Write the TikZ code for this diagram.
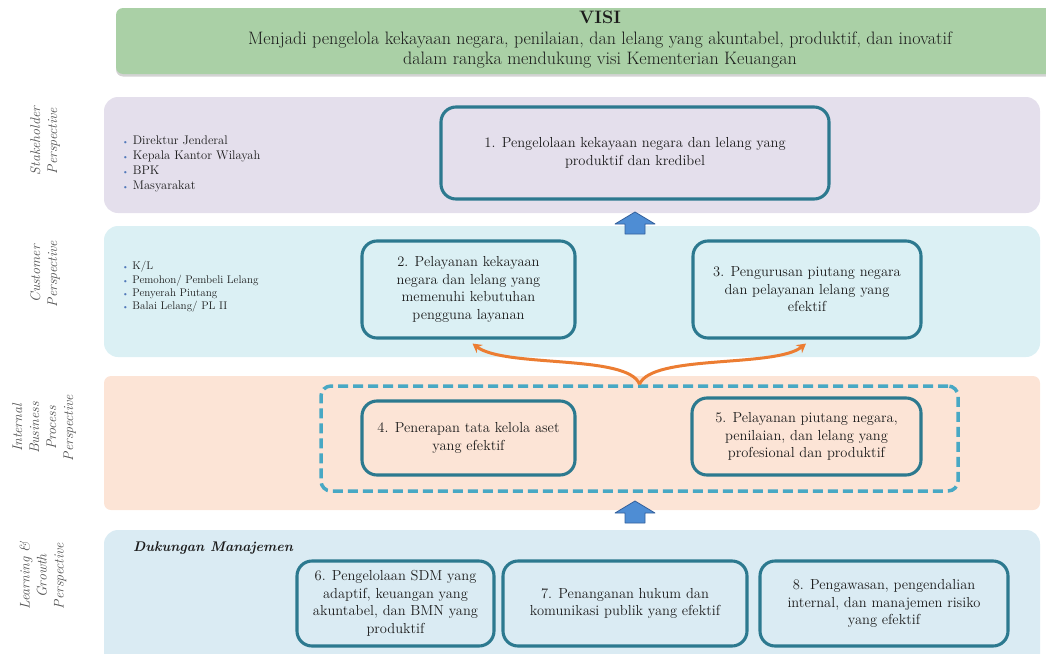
\documentclass[tikz,border=0pt]{standalone}
\usetikzlibrary{arrows.meta,shadows}
\definecolor{visig}{RGB}{170,208,166}
\definecolor{lav}{RGB}{228,223,236}
\definecolor{cyanb}{RGB}{219,240,244}
\definecolor{peach}{RGB}{252,228,214}
\definecolor{blueb}{RGB}{218,235,243}
\definecolor{boxc}{RGB}{44,121,143}
\definecolor{dashc}{RGB}{72,168,196}
\definecolor{orng}{RGB}{236,125,50}
\definecolor{barf}{RGB}{78,141,212}
\definecolor{bard}{RGB}{52,96,156}
\definecolor{txt}{RGB}{28,28,28}
\definecolor{lblc}{RGB}{80,80,80}
\definecolor{bul}{RGB}{80,120,185}
\newcommand{\bt}{{\color{bul}\fontsize{8}{8}\selectfont\textbullet}\ }
\begin{document}
\begin{tikzpicture}[x=1pt,y=-1pt,
  box/.style={draw=boxc, line width=3.1pt, rounded corners=15pt, align=center,
    text=txt, inner sep=0pt, font=\fontsize{14.5}{17.5}\selectfont},
  band/.style={rounded corners=14pt},
  plabel/.style={rotate=90, align=center, text=lblc, font=\fontsize{14}{17}\selectfont\itshape},
  blist/.style={anchor=west, align=left, text=txt, inner sep=0pt},
  barrow/.style={fill=barf, draw=bard, line width=0.8pt, line join=round},
  oarrow/.style={draw=orng, line width=3pt, -{Stealth[length=9pt,width=10pt]}},
  dashbox/.style={draw=dashc, line width=3.5pt, dash pattern=on 10pt off 5pt, rounded corners=10pt, inner sep=0pt}
]
\useasboundingbox (0,0) rectangle (1046,653);

% VISI
\node[fill=visig, rounded corners=7pt, minimum width=940pt, minimum height=66pt, inner sep=0pt,
  drop shadow={opacity=0.35, shadow xshift=0pt, shadow yshift=-2.5pt}] (visibox) at (586,41) {};
\node[align=center, text=txt, font=\fontsize{18}{20.5}\selectfont, inner sep=0pt] (visi) at (600,40)
  {\textbf{VISI}\\Menjadi pengelola kekayaan negara, penilaian, dan lelang yang akuntabel, produktif, dan inovatif\\dalam rangka mendukung visi Kementerian Keuangan};

% bands
\fill[lav, band] (104,97) rectangle (1040,213);
\fill[cyanb, band] (104,226) rectangle (1040,357);
\fill[peach, rounded corners=7pt] (104,376) rectangle (1040,510);
\fill[blueb, band] (104,530) rectangle (1040,670);

% perspective labels
\node[plabel] (l1) at (45,141) {Stakeholder\\Perspective};
\node[plabel] (l2) at (45,274) {Customer\\Perspective};
\node[plabel] (l3) at (44,428) {Internal\\Business\\Process\\Perspective};
\node[plabel] (l4) at (43,576) {Learning \&\\Growth\\Perspective};

% bullet lists
\node[blist, font=\fontsize{12.5}{15}\selectfont] (s1) at (122,164)
  {\bt Direktur Jenderal\\\bt Kepala Kantor Wilayah\\\bt BPK\\\bt Masyarakat};
\node[blist, font=\fontsize{11.1}{13.4}\selectfont] (c1) at (122,287)
  {\bt K/L\\\bt Pemohon/ Pembeli Lelang\\\bt Penyerah Piutang\\\bt Balai Lelang/ PL II};

\node[anchor=west, text=txt, inner sep=0pt, font=\fontsize{14}{16}\selectfont\bfseries\itshape] (dm) at (133,548) {Dukungan Manajemen};

% dashed group
\node[dashbox, minimum width=637pt, minimum height=105pt] (grp) at (639.5,438.5) {};

% boxes
\node[box, minimum width=388pt, minimum height=92pt] (b1) at (635,153)
  {1. Pengelolaan kekayaan negara dan lelang yang\\produktif dan kredibel};
\node[box, minimum width=213pt, minimum height=97pt] (b2) at (468.5,289.5)
  {2. Pelayanan kekayaan\\negara dan lelang yang\\memenuhi kebutuhan\\pengguna layanan};
\node[box, minimum width=228pt, minimum height=97pt] (b3) at (807,289.5)
  {3. Pengurusan piutang negara\\dan pelayanan lelang yang\\efektif};
\node[box, minimum width=213pt, minimum height=74pt] (b4) at (468.5,438)
  {4. Penerapan tata kelola aset\\yang efektif};
\node[box, minimum width=229pt, minimum height=77pt] (b5) at (806.5,436.5)
  {5. Pelayanan piutang negara,\\penilaian, dan lelang yang\\profesional dan produktif};
\node[box, minimum width=197pt, minimum height=85pt] (b6) at (395.5,603.5)
  {6. Pengelolaan SDM yang\\adaptif, keuangan yang\\akuntabel, dan BMN yang\\produktif};
\node[box, minimum width=244pt, minimum height=85pt] (b7) at (625,603.5)
  {7. Penanganan hukum dan\\komunikasi publik yang efektif};
\node[box, minimum width=248pt, minimum height=85pt] (b8) at (884,603.5)
  {8. Pengawasan, pengendalian\\internal, dan manajemen risiko\\yang efektif};

% block arrows
\draw[barrow] (615,224) -- (635,212) -- (655,224) -- (645,224) -- (645,234) -- (625,234) -- (625,224) -- cycle;
\draw[barrow] (615,513) -- (635,501) -- (655,513) -- (645,513) -- (645,523) -- (625,523) -- (625,513) -- cycle;

% orange arrows
\draw[oarrow] (grp.north) .. controls (628,354) and (505,368) .. ([xshift=4pt,yshift=-4pt]b2.south);
\draw[oarrow] (grp.north) .. controls (652,354) and (775,368) .. ([xshift=-1pt,yshift=-4pt]b3.south);
\end{tikzpicture}
\end{document}
